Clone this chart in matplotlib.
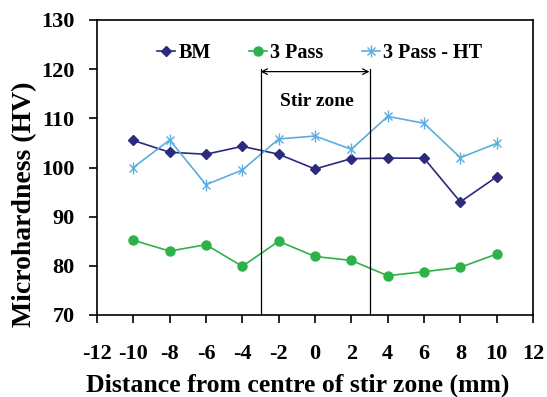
import matplotlib
matplotlib.use('Agg')
import matplotlib.pyplot as plt
from matplotlib.legend_handler import HandlerTuple

# data
distance = [-10, -8, -6, -4, -2, 0, 2, 4, 6, 8, 10]
bm       = [105.5, 103.1, 102.7, 104.3, 102.7, 99.7, 101.8, 101.9, 101.9, 93.0, 98.1]
pass3    = [85.2, 83.0, 84.3, 79.9, 85.0, 81.9, 81.1, 78.0, 78.8, 79.7, 82.4]
pass3_ht = [100.0, 105.6, 96.5, 99.5, 105.8, 106.4, 103.7, 110.4, 109.0, 102.0, 104.9]
zone_edges = [-3, 3]
zone_top = 120
x_ticks = list(range(-12, 13, 2))
y_ticks = list(range(70, 131, 10))

plt.rcParams['font.family'] = ['Liberation Serif', 'DejaVu Serif']
plt.rcParams['font.weight'] = 'bold'
plt.rcParams['axes.unicode_minus'] = False

fig = plt.figure(figsize=(5.47, 3.97), dpi=100)
ax = fig.add_axes([97 / 547, 1 - 315 / 397, (533 - 97) / 547, (315 - 20) / 397])

h_bm, = ax.plot(distance, bm, color='#2b2a7c', marker='D', ms=5.5, lw=1.2)
h_p3, = ax.plot(distance, pass3, color='#2db24a', marker='o', ms=6.5, lw=1.2)
h_ht, = ax.plot(distance, pass3_ht, color='#5aaee0', marker='x', ms=6, mew=1.0, lw=1.2)
h_ht2, = ax.plot(distance, pass3_ht, color='#5aaee0', marker='|', ms=8, mew=1.0, lw=0)

# stir zone markers
for xe in zone_edges:
    ax.plot([xe, xe], [70, zone_top], color='black', lw=0.9)
ax.annotate('', xy=(zone_edges[0], 119.5), xytext=(zone_edges[1], 119.5),
            arrowprops=dict(arrowstyle='<->', color='black', lw=0.9,
                            shrinkA=0, shrinkB=0))
ax.text(0.1, 113.4, 'Stir zone', ha='center', va='center', fontsize=14,
        fontweight='bold')

ax.set_xlim(-12, 12)
ax.set_ylim(70, 130)
ax.set_xticks(x_ticks)
ax.set_yticks(y_ticks)
ax.tick_params(direction='out', length=6, width=1.2, labelsize=16)
ax.tick_params(axis='x', pad=15)
ax.tick_params(axis='y', pad=10)
for s in ax.spines.values():
    s.set_linewidth(1.2)

ax.set_xlabel('Distance from centre of stir zone (mm)', fontsize=18.5,
              fontweight='bold', va='center')
ax.xaxis.set_label_coords(0.461, -0.237)
ax.set_ylabel('Microhardness (HV)', fontsize=20, fontweight='bold', va='center')
ax.yaxis.set_label_coords(-0.167, 0.376)

ax.legend([h_bm, h_p3, (h_ht, h_ht2)], ['BM', '3 Pass', '3 Pass - HT'],
          handler_map={tuple: HandlerTuple(ndivide=1, pad=0)},
          loc='center left', bbox_to_anchor=(0.138, 0.888), ncol=3, frameon=False,
          fontsize=14.5, handlelength=0.9, handletextpad=0.15, columnspacing=1.9,
          borderpad=0, borderaxespad=0)

fig.savefig('out.png', dpi=100)
